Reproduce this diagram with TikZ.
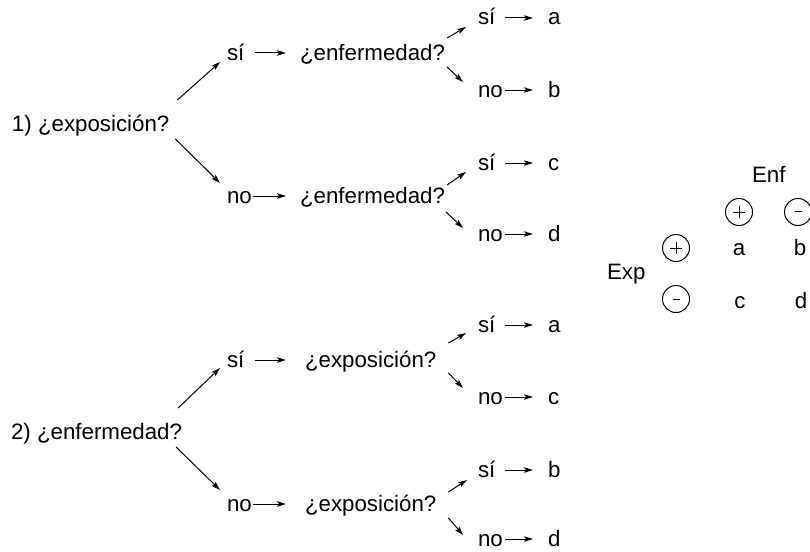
\documentclass[tikz,border=0pt]{standalone}
\usepackage{fontspec}
\setmainfont{Liberation Sans}
\usetikzlibrary{arrows.meta,calc}

\tikzset{
  lbl/.style={anchor=base west, inner sep=0pt, outer sep=0pt,
              text height=14pt, text depth=0pt,
              font=\fontsize{22.3}{24}\selectfont},
  cell/.style={anchor=base, inner sep=0pt, outer sep=0pt,
               font=\fontsize{22.3}{24}\selectfont},
  arr/.style={line width=1pt, -{Stealth[length=9pt,width=5.5pt,inset=2pt]}},
  sign/.style={circle, draw, line width=1pt, minimum size=27pt, inner sep=0pt},
  bar/.style={line width=1pt}
}

\begin{document}
\begin{tikzpicture}[x=1pt,y=-1pt]
\useasboundingbox (0,0) rectangle (810,551);

% ---------------- tree 1: exposure first ----------------
\node[lbl] (q1)  at (12,131)  {1) ¿exposición?};
\node[lbl] (s1)  at (227,60)  {sí};
\node[lbl] (n1)  at (227,203) {no};
\node[lbl] (e1)  at (300,60)  {¿enfermedad?};
\node[lbl] (e2)  at (300,203) {¿enfermedad?};

\node[lbl] (s11) at (478,25)  {sí};
\node[lbl] (n11) at (478,97)  {no};
\node[lbl] (s12) at (478,170) {sí};
\node[lbl] (n12) at (478,241) {no};
\node[lbl] (la1) at (548,25)  {a};
\node[lbl] (lb1) at (548,97)  {b};
\node[lbl] (lc1) at (548,170) {c};
\node[lbl] (ld1) at (548,241) {d};

\draw[arr] ($(q1.east)+(8,-24)$) -- ($(s1.west)+(-7,9)$);
\draw[arr] ($(q1.east)+(6,15)$)  -- ($(n1.west)+(-7,-13)$);
\draw[arr] ($(s1.west)+(28,0)$)  -- ($(e1.west)+(-14,0)$);
\draw[arr] ($(n1.west)+(26,0)$)  -- ($(e2.west)+(-14,0)$);

\draw[arr] ($(e1.east)+(2,-15)$) -- ($(s11.west)+(-12,9)$);
\draw[arr] ($(e1.east)+(2,14)$)  -- ($(n11.west)+(-15,-8)$);
\draw[arr] ($(e2.east)+(2,-11)$) -- ($(s12.west)+(-12,9)$);
\draw[arr] ($(e2.east)+(1,16)$)  -- ($(n12.west)+(-15,-6)$);

\draw[arr] ($(s11.west)+(27,0)$) -- ($(la1.west)+(-15,0)$);
\draw[arr] ($(n11.west)+(27,0)$) -- ($(lb1.west)+(-15,0)$);
\draw[arr] ($(s12.west)+(27,0)$) -- ($(lc1.west)+(-15,0)$);
\draw[arr] ($(n12.west)+(27,0)$) -- ($(ld1.west)+(-15,0)$);

% ---------------- tree 2: disease first ----------------
\node[lbl] (q2)  at (11,439)  {2) ¿enfermedad?};
\node[lbl] (s2)  at (227,367) {sí};
\node[lbl] (n2)  at (227,511) {no};
\node[lbl] (x1)  at (305,367) {¿exposición?};
\node[lbl] (x2)  at (305,511) {¿exposición?};

\node[lbl] (s21) at (478,332) {sí};
\node[lbl] (n21) at (478,404) {no};
\node[lbl] (s22) at (478,477) {sí};
\node[lbl] (n22) at (478,546) {no};
\node[lbl] (la2) at (548,332) {a};
\node[lbl] (lc2) at (548,404) {c};
\node[lbl] (lb2) at (548,477) {b};
\node[lbl] (ld2) at (548,546) {d};

\draw[arr] ($(q2.east)+(-4,-24)$) -- ($(s2.west)+(-7,8)$);
\draw[arr] ($(q2.east)+(-6,15)$)  -- ($(n2.west)+(-7,-14)$);
\draw[arr] ($(s2.west)+(28,0)$)   -- ($(x1.west)+(-19,0)$);
\draw[arr] ($(n2.west)+(26,0)$)   -- ($(x2.west)+(-19,0)$);

\draw[arr] ($(x1.east)+(12,-17)$) -- ($(s21.west)+(-12,8)$);
\draw[arr] ($(x1.east)+(12,13)$)  -- ($(n21.west)+(-15,-9)$);
\draw[arr] ($(x2.east)+(12,-12)$) -- ($(s22.west)+(-11,10)$);
\draw[arr] ($(x2.east)+(12,14)$)  -- ($(n22.west)+(-15,-4)$);

\draw[arr] ($(s21.west)+(27,0)$) -- ($(la2.west)+(-15,0)$);
\draw[arr] ($(n21.west)+(27,0)$) -- ($(lc2.west)+(-15,0)$);
\draw[arr] ($(s22.west)+(27,0)$) -- ($(lb2.west)+(-15,0)$);
\draw[arr] ($(n22.west)+(27,0)$) -- ($(ld2.west)+(-15,0)$);

% ---------------- 2x2 table ----------------
\node[lbl] (enf) at (752,182) {Enf};
\node[lbl] (exp) at (607,279) {Exp};

\node[sign] (ep) at (739,212) {};
\node[sign] (em) at (798,212) {};
\node[sign] (xp) at (676,248) {};
\node[sign] (xm) at (676,299) {};

\draw[bar] ($(ep.center)+(-6,0)$) -- ($(ep.center)+(6,0)$)
           ($(ep.center)+(0,-6)$) -- ($(ep.center)+(0,6)$);
\draw[bar] ($(xp.center)+(-6,0)$) -- ($(xp.center)+(6,0)$)
           ($(xp.center)+(0,-6)$) -- ($(xp.center)+(0,6)$);
\draw[bar] ($(em.center)+(-3.5,-1)$) -- ($(em.center)+(3.5,-1)$);
\draw[bar] ($(xm.center)+(-3.5,0)$)  -- ($(xm.center)+(3.5,0)$);

\node[cell] (ca) at (739,255) {a};
\node[cell] (cb) at (800,255) {b};
\node[cell] (cc) at (740,308) {c};
\node[cell] (cd) at (801,308) {d};
\end{tikzpicture}
\end{document}
